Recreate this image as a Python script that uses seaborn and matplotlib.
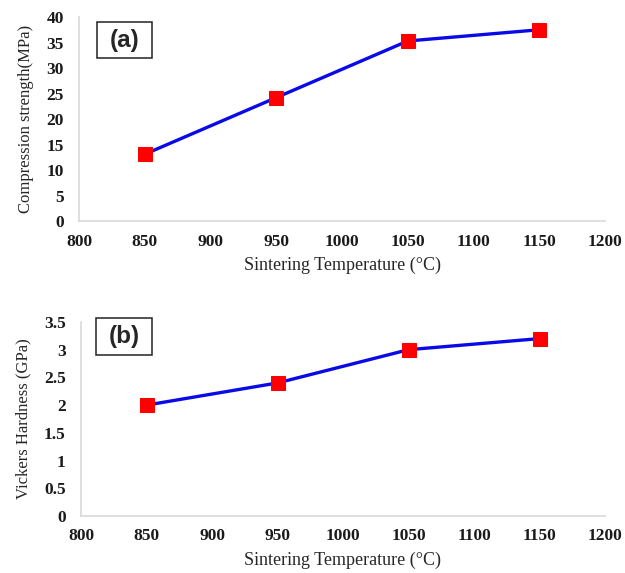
import matplotlib
matplotlib.use("Agg")
import matplotlib.pyplot as plt
from matplotlib.patches import Rectangle
from matplotlib.ticker import FuncFormatter, MultipleLocator
import seaborn as sns
import pandas as pd

# Sintering results
temperature = [850, 950, 1050, 1150]
compression_strength = [13.1, 24.2, 35.3, 37.5]   # MPa
vickers_hardness = [2.0, 2.4, 3.0, 3.2]            # GPa

x_ticks = [800, 850, 900, 950, 1000, 1050, 1100, 1150, 1200]

sns.set_style("white")
plt.rcParams["font.family"] = ["Liberation Serif", "DejaVu Serif"]

fig = plt.figure(figsize=(6.25, 5.73), dpi=100)
ax_a = fig.add_axes([0.1264, 0.6143, 0.8416, 0.356])
ax_b = fig.add_axes([0.1296, 0.0995, 0.8384, 0.3386])

df = pd.DataFrame({"T": temperature, "cs": compression_strength, "hv": vickers_hardness})

# (axes, column, y max, y step, y label, tag, tag box [x0, y0, w, h], tag centre)
panels = [
    (ax_a, "cs", 40, 5, "Compression strength(MPa)", "(a)",
     (0.0342, 0.799, 0.1046, 0.1765), (0.0865, 0.887)),
    (ax_b, "hv", 3.5, 0.5, "Vickers Hardness (GPa)", "(b)",
     (0.0286, 0.830, 0.107, 0.191), (0.082, 0.925)),
]

for ax, col, ymax, ystep, ylabel, tag, box, centre in panels:
    sns.lineplot(data=df, x="T", y=col, ax=ax, color="#0a0ae6", linewidth=2.4,
                 marker="s", markersize=9.5, markerfacecolor="#ff0000",
                 markeredgecolor="#ff0000", zorder=3)
    ax.set_xlim(800, 1200)
    ax.set_ylim(0, ymax)
    ax.set_xticks(x_ticks)
    ax.yaxis.set_major_locator(MultipleLocator(ystep))
    ax.yaxis.set_major_formatter(FuncFormatter(lambda v, p: f"{v:g}"))
    for side in ("top", "right"):
        ax.spines[side].set_visible(False)
    for side in ("left", "bottom"):
        ax.spines[side].set_color("#d9d9d9")
        ax.spines[side].set_linewidth(1.2)
    ax.tick_params(axis="x", length=0, labelsize=12.5, pad=9, colors="#1a1a1a")
    ax.tick_params(axis="y", length=0, labelsize=12.5, pad=11, colors="#1a1a1a")
    for lab in ax.get_xticklabels() + ax.get_yticklabels():
        lab.set_fontweight("bold")
    ax.set_xlabel("Sintering Temperature (°C)", fontsize=13, labelpad=5)
    ax.set_ylabel(ylabel, fontsize=12, labelpad=9)
    ax.add_patch(Rectangle((box[0], box[1]), box[2], box[3], transform=ax.transAxes,
                           facecolor="white", edgecolor="#222222", linewidth=1.1,
                           zorder=4, clip_on=False))
    ax.text(centre[0], centre[1], tag, transform=ax.transAxes, fontsize=17.5,
            fontweight="bold", family=["Liberation Sans", "DejaVu Sans"],
            ha="center", va="center", zorder=5)

fig.savefig("out.png", dpi=100)
